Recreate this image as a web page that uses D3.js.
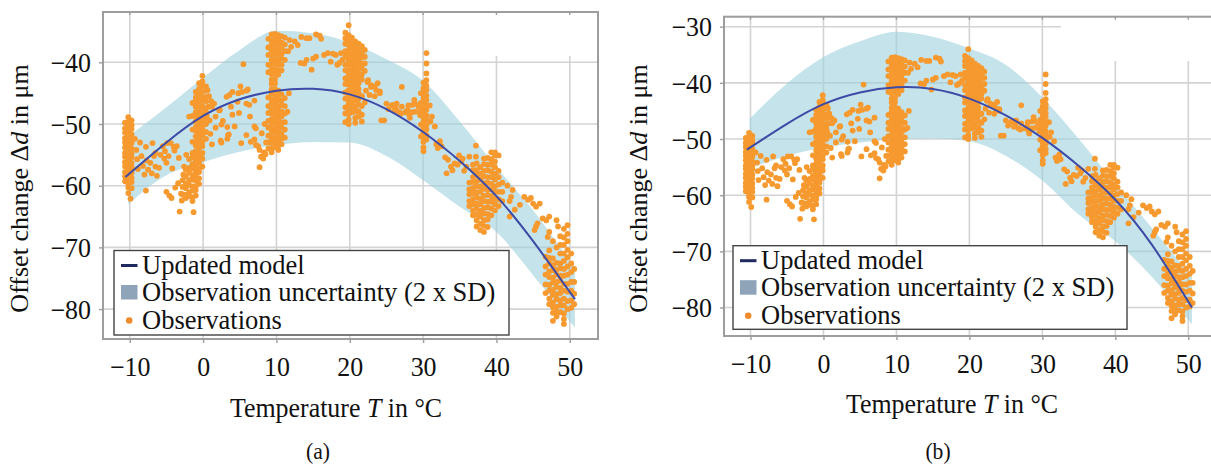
<!DOCTYPE html>
<html>
<head>
<meta charset="utf-8">
<script src="https://cdn.jsdelivr.net/npm/d3@7"></script>
<style>
  body { margin: 0; background: #fff; }
  svg { display: block; }
  text { font-family: "Liberation Serif", "Times New Roman", serif; fill: #111; }
</style>
</head>
<body>
<svg id="fig" width="1211" height="464"></svg>
<script>
// ---------- tick values ----------
const xTicks = [-10, 0, 10, 20, 30, 40, 50];
const yTicksA = [-40, -50, -60, -70, -80];
const yTicksB = [-30, -40, -50, -60, -70, -80];

// ---------- updated model curves (temperature in °C, offset change in µm) ----------
const modelTempA   = [-10.6, -5, 0, 5, 10, 15, 20, 25, 30, 35, 40, 45, 50.7];
const modelOffsetA = [-58.6, -53.0, -48.7, -46.0, -44.6, -44.3, -45.2, -47.6, -51.3, -56.0, -61.7, -69.0, -78.4];
const modelTempB   = [-10.5, -5, 0, 5, 10, 15, 20, 25, 30, 35, 40, 45, 50.5];
const modelOffsetB = [-51.9, -47.3, -43.8, -41.7, -40.8, -41.1, -42.8, -45.8, -49.8, -54.8, -60.8, -68.8, -80.0];

// ---------- observation uncertainty bands (2 x SD) ----------
const bandTempA  = [-10.2, -5, 0, 5, 10, 15, 20, 25, 30, 35, 40, 45, 50.7];
const bandUpperA = [-52.0, -47.3, -42.5, -38.0, -34.9, -35.3, -36.8, -39.5, -43.0, -49.6, -57.0, -64.0, -73.5];
const bandLowerA = [-63.0, -58.3, -56.2, -54.5, -53.4, -52.9, -53.0, -55.2, -59.1, -63.4, -67.5, -74.5, -83.0];
const bandTempB  = [-10.1, -5, 0, 5, 10, 15, 20, 25, 30, 35, 40, 45, 50.5];
const bandUpperB = [-46.4, -40.1, -35.4, -32.6, -30.9, -31.8, -33.9, -36.8, -42.6, -50.0, -58.0, -65.8, -74.5];
const bandLowerB = [-55.2, -53.0, -51.5, -50.6, -50.1, -49.9, -50.4, -53.0, -57.4, -63.5, -68.2, -74.5, -83.0];

// ---------- observations ----------
// dense measurement runs: [temperature, [offset values ...]]
const obsStripeMinus10 = [
  [-10.65, [-49.8,-50.7,-51.4,-52.3,-53.0,-53.8,-54.7,-55.3,-56.2,-56.9,-57.8,-58.5,-59.3]],
  [-10.2,  [-48.9,-49.7,-50.4,-51.2,-51.8,-52.7,-53.5,-54.1,-55.0,-55.7,-56.6,-57.2,-58.1,-58.8,-59.7,-60.3,-61.2]],
  [-9.75,  [-49.4,-50.2,-50.8,-51.7,-52.5,-53.1,-54.0,-54.8,-55.4,-56.3,-57.0,-57.9,-58.7,-59.4,-60.4]]
];
const obsStripeZero = [
  [0.4,   [-43.9,-44.6,-45.6,-46.3,-47.4,-48.1,-49.1,-50.0,-51.3,-52.4]],
  [-0.1,  [-42.2,-43.1,-43.8,-44.7,-45.6,-46.2,-47.1,-48.0,-48.6,-49.5,-50.4,-51.0,-51.9,-52.9,-53.6,-54.7,-55.6,-56.9]],
  [-0.55, [-43.4,-44.3,-45.2,-45.8,-46.7,-47.6,-48.2,-49.1,-50.0,-50.6,-51.5,-52.4,-53.0,-53.9,-54.8,-55.4,-56.3,-57.2,-57.8,-58.8,-59.7]],
  [-1.0,  [-44.8,-45.7,-46.3,-47.2,-48.1,-48.7,-49.6,-50.5,-51.1,-52.0,-52.9,-53.5,-54.4,-55.3,-55.9,-56.8,-57.7,-58.3,-59.2,-60.1,-60.7,-61.6]],
  [-1.45, [-46.6,-48.7,-50.9,-52.9,-54.7,-55.4,-56.5,-57.2,-58.3,-59.0,-60.1,-60.8,-61.9,-62.5]],
  [-1.9,  [-48.8,-55.7,-57.1,-57.9,-59.1,-59.9,-61.1,-61.7]],
  [-2.35, [-57.4,-58.5,-59.7,-60.4,-61.5,-62.0]],
  [-2.8,  [-59.1,-60.2,-61.4]]
];
const obsStripeTen = [
  [8.9,   [-36.2,-37.6,-38.8,-40.4,-41.6,-45.7,-47.1,-48.2,-49.5,-50.6,-51.9,-53.0,-54.0]],
  [9.35,  [-35.5,-36.4,-37.1,-38.0,-38.7,-39.6,-40.3,-41.2,-41.9,-42.8,-43.5,-44.4,-45.1,-46.0,-46.7,-47.6,-48.3,-49.2,-49.9,-50.8,-51.5,-52.4,-53.1,-54.0,-54.6]],
  [9.8,   [-35.4,-36.1,-37.0,-37.9,-38.6,-39.5,-40.2,-41.1,-41.8,-42.7,-43.4,-44.3,-45.0,-45.9,-46.6,-47.5,-48.2,-49.1,-49.8,-50.7,-51.4,-52.3,-53.0,-53.8]],
  [10.25, [-35.6,-36.5,-37.2,-38.1,-38.8,-39.7,-40.4,-41.3,-42.0,-44.6,-45.5,-46.2,-47.1,-47.8,-48.7,-49.4,-50.3,-51.0,-51.9,-52.6,-53.5,-54.2]],
  [10.7,  [-35.8,-36.8,-37.6,-38.6,-39.4,-40.4,-41.3,-45.2,-46.2,-47.0,-48.0,-48.8,-49.8,-50.6,-51.6,-52.4,-53.3]],
  [11.15, [-36.0,-37.1,-38.2,-39.6,-45.8,-47.1,-48.3,-49.7,-50.9,-52.2]]
];
const obsStripeTwenty = [
  [19.4,  [-35.2,-36.1,-37.0,-38.2,-39.1,-40.4,-41.3,-42.6,-43.5,-44.9,-45.9,-47.3,-48.3,-49.7]],
  [19.85, [-34.0,-35.6,-36.5,-37.2,-38.1,-38.8,-39.7,-40.4,-41.3,-42.0,-42.9,-43.6,-44.5,-45.2,-46.1,-46.8,-47.7,-48.4,-49.3,-50.0]],
  [20.3,  [-36.0,-36.9,-37.6,-38.5,-39.2,-40.1,-40.8,-41.7,-42.4,-43.3,-44.0,-44.9,-45.6,-46.5,-47.2,-48.1]],
  [20.75, [-36.6,-37.5,-38.2,-39.1,-39.8,-40.7,-41.4,-42.3,-43.0,-43.9,-44.6,-45.5,-46.2,-47.2,-48.0,-49.0,-49.8]],
  [21.2,  [-37.0,-37.9,-38.6,-39.5,-40.2,-41.1,-41.8,-42.7,-43.4,-44.3,-45.0,-45.9,-46.8,-47.9,-48.8]],
  [21.65, [-37.4,-38.4,-39.2,-40.2,-41.0,-42.0,-42.8,-45.5,-47.1,-48.5,-49.6]],
  [22.05, [-38.0,-39.1,-40.2,-41.4,-46.5]]
];
const obsStripeThirty = [
  [29.7,  [-45.0,-46.6,-48.0,-50.1,-52.0]],
  [30.05, [-43.3,-44.2,-44.9,-45.8,-46.5,-47.4,-48.1,-49.0,-49.7,-50.6,-51.3,-52.2,-52.9,-53.8,-54.4]],
  [30.45, [-38.5,-40.2,-41.8,-42.9,-43.8,-44.5,-45.4,-46.1,-47.0,-47.7,-48.6,-49.3,-50.2,-50.9,-51.8,-52.5]]
];
const obsCluster38 = [
  [36.3, [-59.5,-60.6,-61.4,-62.5,-63.3]],
  [36.8, [-57.5,-58.6,-59.4,-60.4,-61.2,-62.2,-63.0,-64.0,-64.8]],
  [37.3, [-56.4,-57.5,-58.3,-59.3,-60.1,-61.1,-61.9,-62.9,-63.7,-64.7,-65.6,-66.6]],
  [37.8, [-57.0,-58.1,-59.0,-60.1,-61.0,-62.1,-63.0,-64.1,-65.0,-66.2,-67.2]],
  [38.3, [-55.6,-56.5,-57.6,-58.5,-59.6,-60.5,-61.6,-62.5,-63.6,-64.5,-65.6,-66.5,-67.5]],
  [38.8, [-55.5,-56.6,-57.5,-58.6,-59.5,-60.6,-61.5,-62.6,-63.5,-64.6,-65.5,-66.7]],
  [39.3, [-54.6,-55.7,-56.6,-57.7,-58.6,-59.7,-60.6,-61.7,-62.6,-63.7,-64.8]],
  [39.8, [-54.6,-55.1,-56.1,-57.0,-58.1,-59.0,-60.1,-61.0,-62.1,-63.0,-64.0]],
  [40.3, [-55.1,-57.6,-58.6,-59.8,-61.0,-62.2,-63.3]],
  [40.8, [-59.5,-61.0,-62.5]]
];
const obsCluster48 = [
  [46.7, [-71.5,-73.1,-74.4,-76.0,-77.4]],
  [47.2, [-70.5,-71.7,-72.6,-73.9,-74.8,-76.1,-77.0,-78.3,-79.2]],
  [47.7, [-69.0,-71.8,-72.9,-73.7,-74.9,-75.7,-76.9,-77.7,-78.9,-79.7,-80.6,-81.9]],
  [48.2, [-70.0,-72.5,-73.6,-74.4,-75.6,-76.4,-77.6,-78.4,-79.6,-80.4,-81.2]],
  [48.7, [-68.2,-69.6,-71.0,-72.6,-73.4,-74.6,-75.4,-76.6,-77.4,-78.6,-79.4,-80.5]],
  [49.2, [-67.0,-68.4,-69.6,-71.0,-72.2,-73.5,-74.6,-75.9,-77.0,-78.3,-79.4,-80.7,-81.6,-82.4]],
  [49.7, [-66.4,-67.8,-69.0,-70.4,-71.6,-73.1,-74.4,-75.9,-77.2,-78.7,-80.0]],
  [50.2, [-71.0,-72.6,-74.0,-75.6,-77.0,-78.6,-79.8]],
  [50.6, [-73.5,-75.6,-77.5,-79.2]]
];

// single readings between the runs: [temperature, offset]
const obsScatterCold = [
  [-9.3,-52.4],[-9.1,-54.2],[-9.0,-55.7],[-8.9,-57.3],[-8.6,-53.0],[-8.4,-55.2],[-8.2,-56.8],[-8.0,-58.2],
  [-7.8,-53.7],[-7.7,-55.9],[-7.5,-57.4],[-7.8,-60.8],[-7.2,-56.3],[-6.9,-53.1],[-7.0,-58.0],[-6.7,-55.2],
  [-6.5,-54.7],[-6.5,-56.9],[-6.3,-58.4],[-6.0,-57.1],[-5.8,-55.0],[-5.5,-53.6],[-5.3,-55.6],[-5.2,-54.4],
  [-4.9,-53.1],[-5.0,-56.3],[-4.7,-55.2],[-4.4,-53.1],[-4.2,-57.2],[-4.0,-53.7],[-3.9,-54.3],[-3.6,-53.6],
  [-3.3,-55.5],[-5.0,-61.0],[-4.6,-61.6],[-4.3,-62.0],[-3.8,-60.3],[-3.4,-59.6],[-3.2,-64.2],[-3.0,-61.3],
  [-2.7,-58.2],[-2.9,-62.4],[-1.3,-64.3],[-9.9,-62.1],[-2.6,-56.9],[-2.3,-55.0]
];
const obsScatterMild = [
  [0.6,-44.5],[0.8,-45.5],[1.1,-46.3],[0.5,-48.7],[0.9,-49.4],[0.7,-47.2],[1.2,-47.2],[1.5,-46.7],
  [1.7,-48.8],[1.0,-51.6],[1.7,-50.6],[2.2,-47.8],[2.3,-47.7],[2.5,-50.1],[2.7,-49.5],[2.4,-52.7],
  [1.2,-53.3],[2.5,-53.0],[3.3,-50.5],[3.3,-52.4],[3.5,-51.7],[3.6,-45.3],[3.2,-45.6],[3.8,-47.2],
  [4.0,-44.8],[4.0,-48.5],[4.3,-50.4],[3.4,-51.8],[4.7,-46.4],[4.8,-45.0],[4.9,-48.2],[5.1,-43.9],
  [5.3,-44.8],[5.2,-53.1],[5.5,-40.3],[5.9,-44.6],[5.9,-46.7],[5.9,-51.8],[6.1,-44.4],[6.3,-46.9],
  [6.4,-48.8],[6.5,-52.9],[7.0,-46.2],[7.0,-50.4],[7.2,-50.7],[7.0,-52.5],[7.2,-53.4],[7.5,-53.6],
  [7.7,-54.2],[7.7,-57.0],[7.9,-55.3],[8.0,-51.5],[8.3,-54.6],[8.6,-53.0],[8.4,-50.0],[8.2,-55.6],[8.5,-54.9]
];
const obsScatterWarm = [
  [11.6,-38.2],[11.8,-36.4],[12.0,-37.5],[12.5,-36.6],[12.9,-37.2],[13.4,-35.9],[14.1,-36.1],[14.5,-36.1],
  [15.4,-35.5],[15.9,-35.7],[16.1,-36.2],[13.3,-40.1],[13.8,-40.2],[14.1,-39.6],[14.8,-41.2],[15.0,-39.4],
  [15.4,-39.1],[16.5,-38.8],[17.0,-38.5],[17.4,-39.9],[17.7,-38.6],[18.1,-38.8],[18.3,-40.4],[18.6,-40.1],
  [18.8,-38.5],[19.0,-39.6],[11.7,-45.0],[11.5,-48.0],
  [22.5,-42.9],[22.9,-43.7],[23.4,-43.9],[23.8,-43.4],[24.1,-44.7],[23.4,-45.5],[22.7,-45.3],[22.9,-44.0],
  [23.6,-44.5],[24.1,-45.0],[22.4,-43.2],[22.2,-44.6],[24.7,-49.4],[25.0,-46.7],[25.7,-47.0],[26.4,-46.7],
  [27.1,-47.2],[27.1,-44.0],[28.0,-47.0],[28.5,-48.1],[28.9,-46.7],[29.4,-47.2],[27.6,-48.1],[26.7,-48.1],
  [26.1,-47.8],[28.2,-49.0],[29.6,-48.6],[24.3,-49.4],[25.3,-47.6],[25.9,-46.9],[26.3,-47.5],[27.9,-47.7],
  [28.6,-46.9],[29.0,-48.0],[28.1,-48.5],[28.8,-46.1],[27.0,-48.3]
];
const obsScatterHot = [
  [30.9,-47.0],[31.0,-49.6],[31.2,-48.8],[31.6,-50.4],[31.8,-53.3],[32.3,-52.8],[32.5,-53.6],[32.0,-53.9],
  [33.4,-55.8],[33.8,-56.9],[34.3,-56.4],[34.7,-56.6],[35.2,-56.1],[35.4,-55.6],[33.2,-58.0],[36.3,-55.3],
  [37.2,-55.3],[36.8,-56.6],[35.9,-56.9],[37.2,-53.5],[34.0,-57.5],[35.6,-57.6],[33.0,-55.4],[34.9,-55.1],
  [41.5,-60.0],[41.8,-62.5],[41.8,-65.0],[42.0,-61.8],[42.2,-60.7],[42.5,-63.9],[43.2,-63.1],[43.8,-61.8],
  [44.3,-62.3],[44.7,-62.0],[45.0,-62.9],[45.4,-63.4],[45.9,-62.9],[46.3,-65.3],[46.8,-65.6],[47.2,-65.0],
  [48.2,-65.6],[48.4,-66.6],[45.4,-66.6],[45.6,-66.1],[47.0,-68.3],[45.2,-67.2],[47.2,-67.5]
];

// ---------- text ----------
const legendLabels = ["Updated model", "Observation uncertainty (2 x SD)", "Observations"];
const captions = ["(a)", "(b)"];

// ---------- assemble ----------
const fromRuns = runs => runs.flatMap(([t, ds]) => ds.map(d => [t, d]));
const observations = [
  ...fromRuns(obsStripeMinus10), ...fromRuns(obsStripeZero), ...fromRuns(obsStripeTen),
  ...fromRuns(obsStripeTwenty), ...fromRuns(obsStripeThirty), ...fromRuns(obsCluster38),
  ...fromRuns(obsCluster48),
  ...obsScatterCold, ...obsScatterMild, ...obsScatterWarm, ...obsScatterHot
];

const C = {
  grid: "#d3d3d3", frame: "#9d9d9d", band: "#9fd0de", point: "#f6992f",
  model: "#3d4aa6", legLine: "#1e2a5e", legRect: "#8fa4b9", legDot: "#ee8b2d", legBorder: "#444"
};

// serif type set slightly narrow
const SX_TICK = 0.96, SX_CAP = 0.9;
function placeText(sel, x, y, sx) {
  return sel.attr("transform", `translate(${x},${y}) scale(${sx},1)`);
}

const svg = d3.select("#fig");

const panels = [
  {
    id: "a", left: 103, right: 598, top: 12, bottom: 339,
    xDomain: [-13.65, 53.85], yDomain: [-84.85, -31.85], yTicks: yTicksA,
    model: modelTempA.map((t, i) => [t, modelOffsetA[i]]),
    band: bandTempA.map((t, i) => [t, bandLowerA[i], bandUpperA[i]]),
    cover: [440, 13, 157, 43],
    legend: { x: 114, y: 250.5, w: 395, h: 84.5 },
    yTitleX: 28, xTitleX: 336, xTitleY: 417, captionX: 318, caption: captions[0]
  },
  {
    id: "b", left: 724, right: 1215, top: 16.7, bottom: 336,
    xDomain: [-13.632, 53.659], yDomain: [-85.07, -28.22], yTicks: yTicksB,
    model: modelTempB.map((t, i) => [t, modelOffsetB[i]]),
    band: bandTempB.map((t, i) => [t, bandLowerB[i], bandUpperB[i]]),
    cover: [1061, 18, 153, 43],
    legend: { x: 733, y: 245.7, w: 394, h: 83.6 },
    yTitleX: 647, xTitleX: 952, xTitleY: 413, captionX: 938, caption: captions[1]
  }
];

panels.forEach(p => {
  const x = d3.scaleLinear().domain(p.xDomain).range([p.left, p.right]);
  const y = d3.scaleLinear().domain(p.yDomain).range([p.bottom, p.top]);
  const g = svg.append("g").attr("class", "panel-" + p.id);

  g.append("clipPath").attr("id", "clip-" + p.id)
    .append("rect").attr("x", p.left).attr("y", p.top)
    .attr("width", p.right - p.left).attr("height", p.bottom - p.top);
  const plot = g.append("g").attr("clip-path", `url(#clip-${p.id})`);

  // grid
  plot.append("g").selectAll("line").data(xTicks).join("line")
    .attr("x1", d => x(d)).attr("x2", d => x(d)).attr("y1", p.top).attr("y2", p.bottom)
    .attr("stroke", C.grid).attr("stroke-width", 1.6);
  plot.append("g").selectAll("line").data(p.yTicks).join("line")
    .attr("y1", d => y(d)).attr("y2", d => y(d)).attr("x1", p.left).attr("x2", p.right)
    .attr("stroke", C.grid).attr("stroke-width", 1.6);
  // blank patch in the upper right of the grid
  plot.append("rect").attr("x", p.cover[0]).attr("y", p.cover[1])
    .attr("width", p.cover[2]).attr("height", p.cover[3]).attr("fill", "#fff");

  // uncertainty band
  const area = d3.area().curve(d3.curveMonotoneX)
    .x(d => x(d[0])).y0(d => y(d[1])).y1(d => y(d[2]));
  plot.append("path").datum(p.band).attr("d", area)
    .attr("fill", C.band).attr("fill-opacity", 0.6);

  // observations
  plot.append("g").selectAll("circle").data(observations).join("circle")
    .attr("cx", d => x(d[0])).attr("cy", d => y(d[1])).attr("r", 2.9)
    .attr("fill", C.point);

  // model
  const line = d3.line().curve(d3.curveNatural).x(d => x(d[0])).y(d => y(d[1]));
  plot.append("path").datum(p.model).attr("d", line)
    .attr("fill", "none").attr("stroke", C.model).attr("stroke-width", 2);

  // frame
  g.append("rect").attr("x", p.left).attr("y", p.top)
    .attr("width", p.right - p.left).attr("height", p.bottom - p.top)
    .attr("fill", "none").attr("stroke", C.frame).attr("stroke-width", 2);
  g.append("g").selectAll("line").data(xTicks).join("line")
    .attr("x1", d => x(d)).attr("x2", d => x(d)).attr("y1", p.top).attr("y2", p.top + 3)
    .attr("stroke", C.frame).attr("stroke-width", 1.4);

  // axes
  const xAxis = g.append("g").attr("transform", `translate(0,${p.bottom})`)
    .call(d3.axisBottom(x).tickValues(xTicks).tickFormat(d3.format("d")).tickSize(4).tickSizeOuter(0));
  xAxis.select(".domain").remove();
  xAxis.selectAll(".tick line").attr("stroke", C.frame).attr("stroke-width", 1.4);
  xAxis.selectAll(".tick text").attr("x", null).attr("y", null).attr("dy", null)
    .attr("font-size", 27).attr("fill", "#111")
    .attr("transform", `translate(0,37) scale(${SX_TICK},1)`);

  const yAxis = g.append("g").attr("transform", `translate(${p.left},0)`)
    .call(d3.axisLeft(y).tickValues(p.yTicks).tickFormat(d3.format("d")).tickSize(4).tickPadding(8).tickSizeOuter(0));
  yAxis.select(".domain").remove();
  yAxis.selectAll(".tick line").attr("stroke", C.frame).attr("stroke-width", 1.4);
  yAxis.selectAll(".tick text").attr("x", null).attr("dy", "0.34em")
    .attr("font-size", 27).attr("fill", "#111")
    .attr("transform", `translate(-12,0) scale(${SX_TICK},1)`);

  // axis titles
  const xt = placeText(g.append("text"), p.xTitleX, p.xTitleY, SX_TICK)
    .attr("text-anchor", "middle").attr("font-size", 27);
  xt.append("tspan").text("Temperature ");
  xt.append("tspan").attr("font-style", "italic").text("T");
  xt.append("tspan").text(" in °C");

  const yt = g.append("text").attr("transform", `translate(${p.yTitleX},188.5) rotate(-90)`)
    .attr("text-anchor", "middle").attr("font-size", 26);
  yt.append("tspan").text("Offset change Δ");
  yt.append("tspan").attr("font-style", "italic").text("d");
  yt.append("tspan").text(" in μm");

  placeText(g.append("text"), p.captionX, 459, SX_CAP)
    .attr("text-anchor", "middle").attr("font-size", 24).text(p.caption);

  // legend
  const L = p.legend;
  const lg = g.append("g").attr("transform", `translate(${L.x},${L.y})`);
  lg.append("rect").attr("width", L.w).attr("height", L.h)
    .attr("fill", "#fff").attr("stroke", C.legBorder).attr("stroke-width", 1.4);
  lg.append("line").attr("x1", 7).attr("x2", 23.5).attr("y1", 15).attr("y2", 15)
    .attr("stroke", C.legLine).attr("stroke-width", 3);
  lg.append("rect").attr("x", 7).attr("y", 34.5).attr("width", 16.5).attr("height", 14.5)
    .attr("fill", C.legRect);
  lg.append("circle").attr("cx", 15.2).attr("cy", 70).attr("r", 3.3).attr("fill", C.legDot);
  const rows = [23, 50.8, 78];
  legendLabels.forEach((lab, i) => {
    lg.append("text").attr("x", 28).attr("y", rows[i]).attr("font-size", 26.5).text(lab);
  });
});
</script>
</body>
</html>
